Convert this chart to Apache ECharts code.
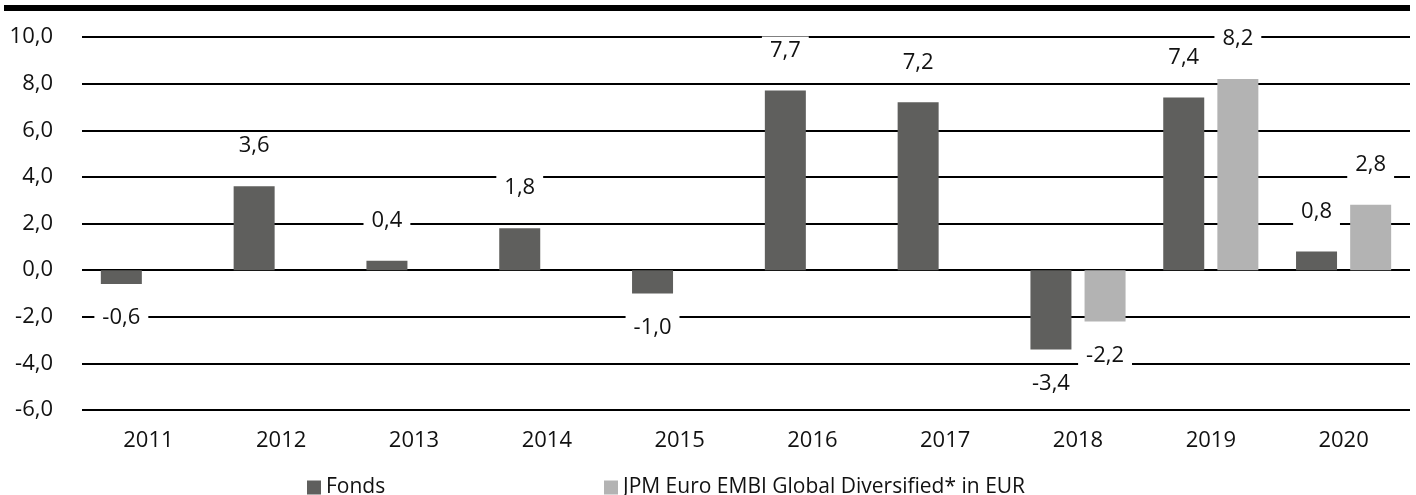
<!DOCTYPE html>
<html>
<head>
<meta charset="utf-8">
<script src="https://cdn.jsdelivr.net/npm/echarts@6/dist/echarts.min.js"></script>
<style>
html,body{margin:0;padding:0;background:#fff;}
#chart{width:1416px;height:495px;}
</style>
</head>
<body>
<div id="chart"></div>
<script>
const categories = ['2011','2012','2013','2014','2015','2016','2017','2018','2019','2020'];
const fondsValues = [-0.6, 3.6, 0.4, 1.8, -1.0, 7.7, 7.2, -3.4, 7.4, 0.8];
const benchValues = [null, null, null, null, null, null, null, -2.2, 8.2, 2.8];
const seriesNames = ['Fonds', 'JPM Euro EMBI Global Diversified* in EUR'];
const yTicks = { min: -6, max: 10, interval: 2 };

const FONT = '"Open Sans", "Noto Sans", sans-serif';
const fmt = v => v.toFixed(1).replace('.', ',');

function withLabels(arr) {
  return arr.map(v => {
    if (v === null) return null;
    const neg = v < 0;
    return {
      value: v,
      label: { position: neg ? 'bottom' : 'top', distance: neg ? 20 : 22 }
    };
  });
}

const labelStyle = {
  show: true,
  formatter: p => fmt(p.value),
  fontFamily: FONT,
  fontSize: 22,
  color: '#111',
  lineHeight: 24,
  backgroundColor: '#fff',
  padding: [2, 8, 6, 8]
};

const legendCommon = {
  top: 472,
  icon: 'rect',
  itemWidth: 14,
  itemHeight: 14,
  itemGap: 6,
  textStyle: { fontFamily: FONT, fontSize: 21, color: '#111' }
};

const chart = echarts.init(document.getElementById('chart'), null, { renderer: 'canvas' });
chart.setOption({
  animation: false,
  backgroundColor: '#fff',
  graphic: [{
    type: 'rect',
    shape: { x: 4, y: 5, width: 1406, height: 6 },
    style: { fill: '#000' },
    z: 10
  }],
  grid: { left: 82, right: 6, top: 37, bottom: 85 },
  legend: [
    Object.assign({ data: [seriesNames[0]], left: 302 }, legendCommon),
    Object.assign({ data: [seriesNames[1]], left: 599 }, legendCommon)
  ],
  xAxis: {
    type: 'category',
    data: categories,
    axisLine: { show: false },
    axisTick: { show: false },
    axisLabel: { fontFamily: FONT, fontSize: 22, color: '#111', margin: 20 }
  },
  yAxis: {
    type: 'value',
    min: yTicks.min,
    max: yTicks.max,
    interval: yTicks.interval,
    axisLine: { show: false },
    axisTick: { show: false },
    splitLine: { lineStyle: { color: '#000', width: 2 } },
    axisLabel: { fontFamily: FONT, fontSize: 22, color: '#111', margin: 29, formatter: fmt }
  },
  series: [
    {
      name: seriesNames[0],
      type: 'bar',
      data: withLabels(fondsValues),
      barWidth: 41,
      barGap: '32%',
      itemStyle: { color: '#5f5f5d' },
      label: labelStyle
    },
    {
      name: seriesNames[1],
      type: 'bar',
      data: withLabels(benchValues),
      barWidth: 41,
      barGap: '32%',
      itemStyle: { color: '#b3b3b3' },
      label: labelStyle
    }
  ]
});
</script>
</body>
</html>
